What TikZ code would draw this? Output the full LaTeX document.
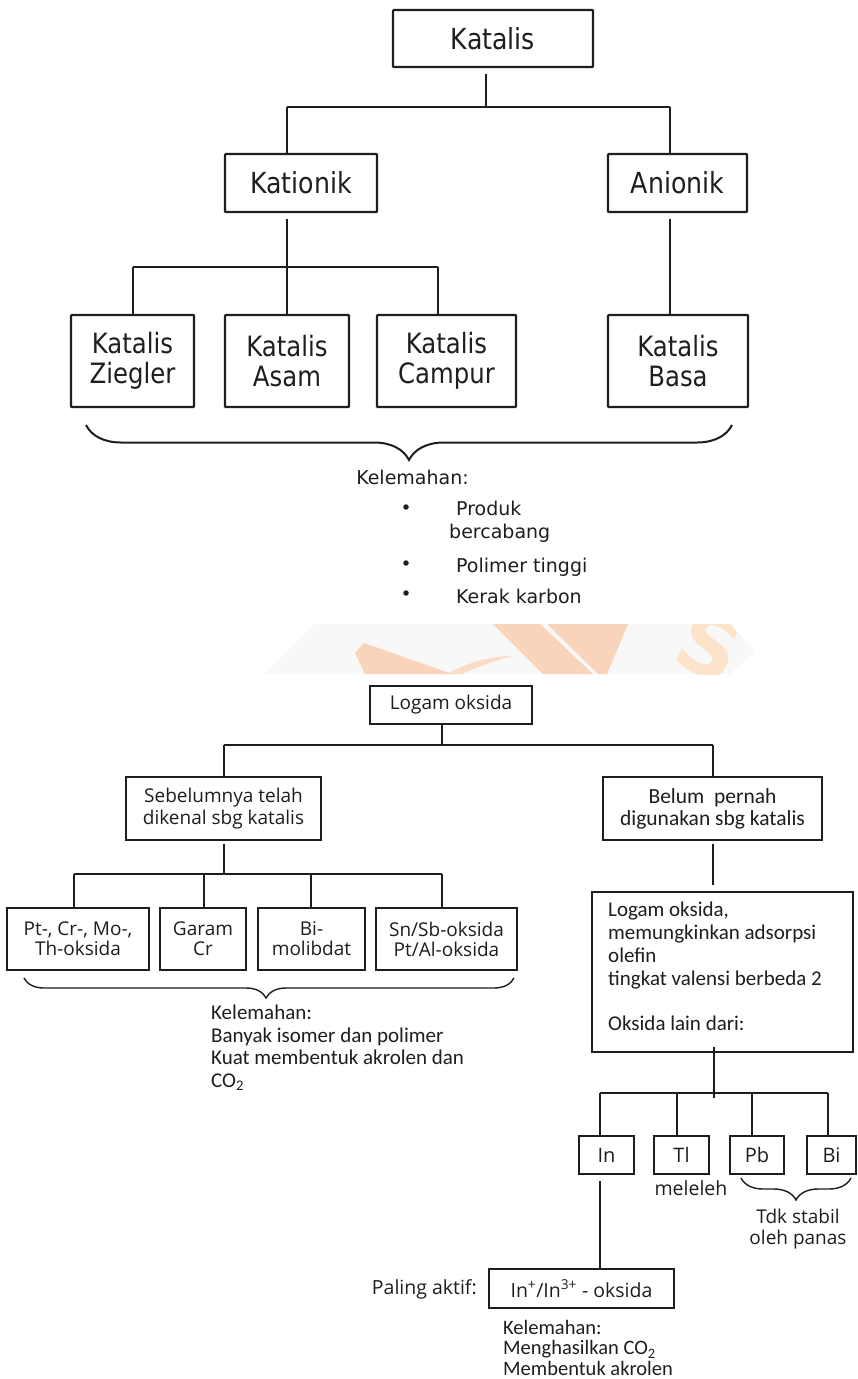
\documentclass[tikz,border=0pt]{standalone}
\usepackage{fontspec}
\setmainfont{Open Sans}
\newfontfamily\topfam{DejaVu Sans}[FakeStretch=0.87]
\newfontfamily\notefam{DejaVu Sans}
\newfontfamily\calfam{Carlito}
\usetikzlibrary{decorations.pathreplacing,calc}

\definecolor{ink}{HTML}{1E1E1E}
\definecolor{wmband}{HTML}{F8F8F8}
\definecolor{wmpeach}{HTML}{FAD4BA}
\definecolor{wmlight}{HTML}{FBDCC4}
\definecolor{wmletter}{HTML}{FCE3C9}

\newcommand\fTopBig{\topfam\fontsize{29}{30}\selectfont}
\newcommand\fTop{\topfam\fontsize{28}{30}\selectfont}
\newcommand\fNote{\notefam\fontsize{19}{22}\selectfont}
\newcommand\fSeg{\fontsize{19}{21}\selectfont}
\newcommand\fCal{\calfam\fontsize{21}{22.5}\selectfont}

\begin{document}
\begin{tikzpicture}[x=1pt,y=-1pt,
  topbox/.style={draw=ink, line width=2.2pt, rounded corners=0.8pt, inner sep=0pt, align=center, font=\fTop, text=ink},
  lowbox/.style={draw=ink, line width=1.4pt, inner sep=0pt, align=center, font=\fSeg, text=ink},
  toplink/.style={draw=ink, line width=2.2pt},
  lowlink/.style={draw=ink, line width=1.4pt},
  topbrace/.style={draw=ink, line width=2pt, decorate, decoration={brace, amplitude=35pt, aspect=0.5}},
  lowbrace/.style={draw=ink, line width=1.4pt, decorate, decoration={brace, amplitude=20pt, aspect=0.506}},
  plain/.style={inner sep=0pt, text=ink},
  bulletdot/.style={circle, fill=ink, inner sep=0pt, minimum size=5.5pt}
]
\useasboundingbox (0,0) rectangle (857,1379);
\fill[white] (0,0) rectangle (857,1379);

% ---------- upper tree ----------
\node[topbox, font=\fTopBig, minimum width=200pt, minimum height=57pt] (kat) at (493,38.5) {Katalis};
\node[topbox, font=\fTopBig, minimum width=152pt, minimum height=58pt] (kation) at (301,183) {Kationik};
\node[topbox, font=\fTopBig, minimum width=139pt, minimum height=58pt] (anion) at (677.5,183) {Anionik};
\node[topbox, minimum width=123pt, minimum height=92pt] (zieg) at (132.5,361) {Katalis\\Ziegler};
\node[topbox, minimum width=124pt, minimum height=92pt] (asam) at (287,361) {Katalis\\Asam};
\node[topbox, minimum width=139pt, minimum height=92pt] (campur) at (446.5,361) {Katalis\\Campur};
\node[topbox, minimum width=140pt, minimum height=92pt] (basa) at (678,361) {Katalis\\Basa};

\coordinate (b1) at (486,107);
\coordinate (b1L) at (287,107);
\coordinate (b1R) at (670,107);
\coordinate (b2) at (287,267);
\coordinate (b2L) at (133,267);
\coordinate (b2R) at (438,267);

\draw[toplink, shorten <=6pt] (kat.south -| b1) -- (b1);
\draw[toplink] (b1L) -- (b1R);
\draw[toplink] (b1L) -- (b1L |- kation.north);
\draw[toplink] (b1R) -- (b1R |- anion.north);
\draw[toplink, shorten <=6pt] (kation.south -| b2) -- (b2);
\draw[toplink] (b2L) -- (b2R);
\draw[toplink] (b2L) -- (b2L |- zieg.north);
\draw[toplink] (b2) -- (b2 |- asam.north);
\draw[toplink] (b2R) -- (b2R |- campur.north);
\draw[toplink, shorten <=6pt] (anion.south -| b1R) -- (b1R |- basa.north);

\coordinate (br1a) at (732,425);
\coordinate (br1b) at (86,425);
\draw[topbrace] (br1a) -- (br1b);

\node[plain, font=\fNote] (kel1) at (412.5,477) {Kelemahan:};
\node[bulletdot] (dot1) at (406,507) {};
\node[bulletdot] (dot2) at (406,563) {};
\node[bulletdot] (dot3) at (406,593) {};
\node[plain, font=\fNote, anchor=west] (w1a) at (456,508) {Produk};
\node[plain, font=\fNote, anchor=west] (w1b) at (449,533) {bercabang};
\node[plain, font=\fNote, anchor=west] (w2) at (456,567) {Polimer tinggi};
\node[plain, font=\fNote, anchor=west] (w3) at (456,596) {Kerak karbon};

% ---------- faint logo band ----------
\begin{scope}
  \clip (265,674) -- (315,624) -- (730,624) -- (755,651) -- (730,674) -- cycle;
  \fill[wmband] (265,674) -- (315,624) -- (730,624) -- (755,651) -- (730,674) -- cycle;
  \fill[wmpeach] (364,643) -- (355,653) -- (365,674) -- (452,674) -- cycle;
  \fill[wmlight] (447,674) .. controls (468,662) and (492,656) .. (512,656)
                 .. controls (492,662) and (474,668) .. (462,674) -- cycle;
  \fill[wmpeach] (493,624) -- (540,624) -- (593,674) -- (543,674) -- cycle;
  \fill[wmpeach] (547,624) -- (628,624) -- (607,674) -- (598,674) -- cycle;
  \node[inner sep=0pt, text=wmletter, font=\notefam\bfseries\fontsize{84}{84}\selectfont, rotate=-25] (wmS) at (710,646) {S};
\end{scope}

% ---------- lower tree ----------
\node[lowbox, minimum width=162pt, minimum height=38pt] (logam) at (451,705) {Logam oksida};
\node[lowbox, minimum width=195pt, minimum height=63pt, font=\fontsize{19}{22}\selectfont] (seb) at (223.5,808.5) {Sebelumnya telah\\dikenal sbg katalis};
\node[lowbox, minimum width=219pt, minimum height=63pt, font=\calfam\fontsize{21.5}{22}\selectfont] (belum) at (712.5,808.5) {Belum~ pernah\\digunakan sbg katalis};
\node[lowbox, minimum width=142pt, minimum height=62pt, font=\fontsize{19}{20}\selectfont] (pt) at (78,939) {Pt-, Cr-, Mo-,\\Th-oksida};
\node[lowbox, minimum width=86pt, minimum height=62pt, font=\fontsize{19}{20}\selectfont] (garam) at (203,939) {Garam\\Cr};
\node[lowbox, minimum width=107pt, minimum height=62pt, font=\fontsize{19}{20}\selectfont] (bim) at (311.5,939) {Bi-\\molibdat};
\node[lowbox, minimum width=141pt, minimum height=62pt, font=\fontsize{19}{20}\selectfont] (sn) at (446.5,939) {Sn/Sb-oksida\\Pt/Al-oksida};
\node[lowbox, minimum width=261pt, minimum height=160pt] (big) at (722.5,972) {};
\node[plain, font=\calfam\fontsize{21}{23}\selectfont, align=left, anchor=north west] (bigtxt) at (608,902)
  {Logam oksida,\\memungkinkan adsorpsi\\olefin\\tingkat valensi berbeda 2\\[22pt]Oksida lain dari:};

\node[lowbox, minimum width=55pt, minimum height=38pt, font=\fontsize{20}{22}\selectfont] (in) at (606.5,1155) {In};
\node[lowbox, minimum width=55pt, minimum height=38pt, font=\fontsize{20}{22}\selectfont] (tl) at (681.5,1155) {Tl};
\node[lowbox, minimum width=54pt, minimum height=38pt, font=\fontsize{20}{22}\selectfont] (pb) at (757,1155) {Pb};
\node[lowbox, minimum width=49pt, minimum height=38pt, font=\fontsize{20}{22}\selectfont] (bi) at (831.5,1155) {Bi};
\node[lowbox, minimum width=185pt, minimum height=39pt, font=\fontsize{19.5}{22}\selectfont] (inox) at (581.5,1288.5) {In\textsuperscript{+}/In\textsuperscript{3+} - oksida};

\coordinate (c1) at (442,745);
\coordinate (c1L) at (224,745);
\coordinate (c1R) at (713,745);
\coordinate (c2) at (224,874);
\coordinate (c2L) at (74,874);
\coordinate (c2a) at (204,874);
\coordinate (c2b) at (311,874);
\coordinate (c2R) at (442,874);
\coordinate (c3) at (714,1093);
\coordinate (c3L) at (600,1093);
\coordinate (c3a) at (677,1093);
\coordinate (c3b) at (752,1093);
\coordinate (c3R) at (828,1093);

\draw[lowlink] (logam.south -| c1) -- (c1);
\draw[lowlink] (c1L) -- (c1R);
\draw[lowlink] (c1L) -- (c1L |- seb.north);
\draw[lowlink] (c1R) -- (c1R |- belum.north);
\draw[lowlink, shorten <=3pt] (seb.south -| c2) -- (c2);
\draw[lowlink] (c2L) -- (c2R);
\draw[lowlink] (c2L) -- (c2L |- pt.north);
\draw[lowlink] (c2a) -- (c2a |- garam.north);
\draw[lowlink] (c2b) -- (c2b |- bim.north);
\draw[lowlink] (c2R) -- (c2R |- sn.north);
\draw[lowlink, shorten <=3pt, shorten >=6pt] (belum.south -| c1R) -- (c1R |- big.north);
\draw[lowlink, shorten <=-6pt, shorten >=-5pt] (big.south -| c3) -- (c3);
\draw[lowlink] (c3L) -- (c3R);
\draw[lowlink] (c3L) -- (c3L |- in.north);
\draw[lowlink] (c3a) -- (c3a |- tl.north);
\draw[lowlink] (c3b) -- (c3b |- pb.north);
\draw[lowlink] (c3R) -- (c3R |- bi.north);
\draw[lowlink, shorten <=6pt] (in.south -| c3L) -- (c3L |- inox.north);

\coordinate (br2a) at (514,978);
\coordinate (br2b) at (24,978);
\draw[lowbrace] (br2a) -- (br2b);
\node[plain, font=\fCal, align=left, anchor=north west] (kel2) at (211,1005)
  {Kelemahan:\\Banyak isomer dan polimer\\Kuat membentuk akrolen dan\\CO\textsubscript{2}};

\coordinate (br3a) at (851,1178);
\coordinate (br3b) at (741,1178);
\draw[lowbrace, decoration={brace, amplitude=22pt, aspect=0.5}] (br3a) -- (br3b);
\node[plain, font=\fontsize{19.5}{22}\selectfont] (mel) at (691,1188) {meleleh};
\node[plain, font=\fontsize{19}{21}\selectfont, align=center] (tdk) at (798,1229.5) {Tdk stabil\\oleh panas};

\node[plain, font=\fontsize{19.5}{22}\selectfont, anchor=east] (pal) at (477,1289) {Paling aktif:};
\node[plain, font=\calfam\fontsize{20.5}{20.5}\selectfont, align=left, anchor=north west] (kel3) at (503,1320)
  {Kelemahan:\\Menghasilkan CO\textsubscript{2}\\Membentuk akrolen};
\end{tikzpicture}
\end{document}
